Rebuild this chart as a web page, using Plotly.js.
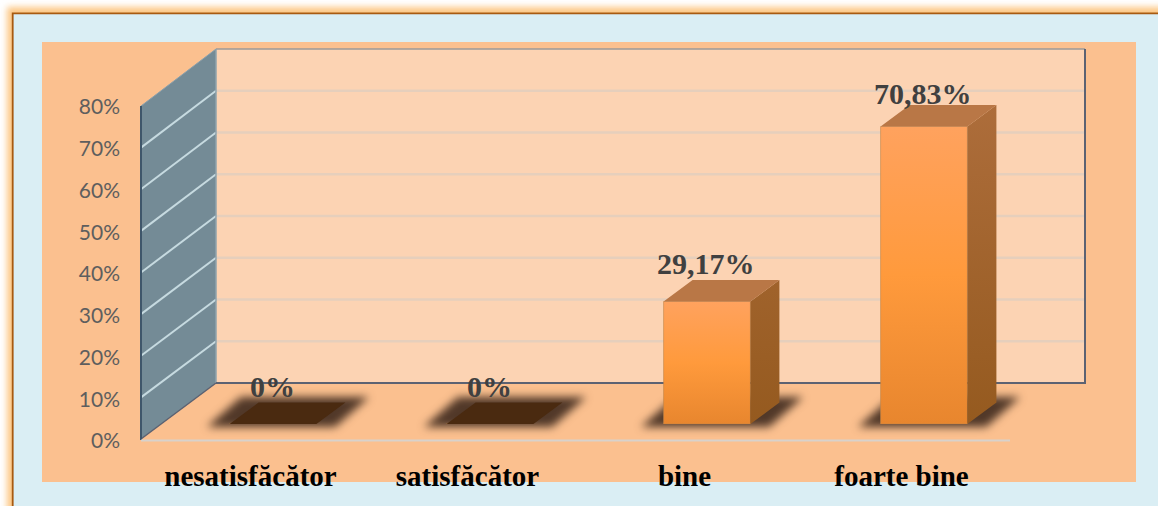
<!DOCTYPE html>
<html><head><meta charset="utf-8">
<script src="https://cdn.plot.ly/plotly-3.0.1.min.js"></script>
<style>html,body{margin:0;padding:0;background:#fff;overflow:hidden}#c{width:1158px;height:506px}</style>
</head><body><div id="c"></div>
<script>
const categories = ['nesatisfăcător', 'satisfăcător', 'bine', 'foarte bine'];
const values = [0, 0, 29.17, 70.83];
const labels = ['0%', '0%', '29,17%', '70,83%'];
const labelLift = [38, 38, 38, 33];
const yTicks = [0, 10, 20, 30, 40, 50, 60, 70, 80];

const W = 1158, H = 506;
const px = x => x / W, py = y => 1 - y / H;
const step = 217, firstBar = 273, firstLabel = 250.5, barW = 0.4;
const left = 141, right = 1085;
const unitY = 4.2;
const depthX = 29 / step, depthY = 21.5 / unitY;
const idx = categories.map((_, i) => i);

const shapes = [];
const blurred = {};
function poly(pts, fill, opts) {
  shapes.push(Object.assign({ type: 'path', xref: 'paper', yref: 'paper', layer: 'below',
    path: 'M' + pts.map(p => px(p[0]) + ',' + py(p[1])).join('L') + 'Z',
    fillcolor: fill, line: { width: 0 } }, opts || {}));
  return shapes.length - 1;
}
function seg(a, b, color, width) {
  shapes.push({ type: 'line', xref: 'paper', yref: 'paper', layer: 'below',
    x0: px(a[0]), y0: py(a[1]), x1: px(b[0]), y1: py(b[1]), line: { color: color, width: width } });
  return shapes.length - 1;
}
// page frame
blurred[poly([[7, 7], [1190, 7], [1190, 530], [7, 530]], 'rgba(252,196,125,0.95)')] = 3;
poly([[11.8, 12.4], [1190, 12.4], [1190, 530], [11.8, 530]], '#A85A10');
poly([[13.6, 14.2], [1190, 14.2], [1190, 530], [13.6, 530]], '#DAEEF4');
poly([[42, 42], [1136, 42], [1136, 482], [42, 482]], '#FBC08F');
// back wall, side wall
poly([[216, 49], [1085, 49], [1085, 383], [216, 383]], '#FCD3B3');
poly([[141, 106], [216, 49], [216, 383], [141, 439]], '#748B96');
yTicks.slice(1, -1).forEach(v => {
  const back = 383 - v * 334 / 80, front = 439 - v * 333 / 80;
  seg([216, back], [1085, back], '#E6CFBC', 2.5);
  seg([141, front], [216, back], '#C6DAE0', 2);
});
seg([216, 49], [1085, 49], '#9C9A98', 1.5);
seg([141, 106], [216, 49], '#8AA0AC', 1);
seg([216, 49], [216, 383], '#8FA3AD', 1.5);
seg([1085, 49], [1085, 384], '#5C6272', 2);
seg([216, 383], [1085, 383], '#5C6272', 2);
seg([141, 439], [216, 383], '#5C6272', 1.5);
seg([141, 106], [141, 440], '#3F566A', 2);
seg([141, 440.5], [1010, 440.5], '#D8D2CC', 2);
// soft floor shadows under the bars
idx.forEach(i => {
  const c = firstBar + step * i;
  blurred[poly([[c - 66, 427], [c + 62, 427], [c + 96, 397], [c - 32, 397]], 'rgba(50,32,22,0.85)')] = 4.5;
});

// polygons for the 3D faces, in data units of the bar axes
const side = { x: [], y: [] }, top3d = { x: [], y: [] }, flat = { x: [], y: [] };
values.forEach((v, i) => {
  const a = i - barW / 2, b = i + barW / 2;
  const tgt = v > 0 ? top3d : flat;
  tgt.x.push(a, b, b + depthX, a + depthX, a, null);
  tgt.y.push(v, v, v + depthY, v + depthY, v, null);
  if (v > 0) {
    side.x.push(b, b + depthX, b + depthX, b, b, null);
    side.y.push(0, depthY, v + depthY, v, 0, null);
  }
});
const faceTrace = (f, color) => ({ type: 'scatter', mode: 'lines', x: f.x, y: f.y, xaxis: 'x', yaxis: 'y2',
  fill: 'toself', fillcolor: color, line: { width: 0, color: color }, hoverinfo: 'skip', showlegend: false, cliponaxis: false });

const traces = [
  { type: 'bar', x: idx, y: values, width: barW, xaxis: 'x', yaxis: 'y2', showlegend: false, cliponaxis: false,
    marker: { color: '#FF9A3E', line: { width: 0.6, color: '#C08448' } }, hoverinfo: 'skip' },
  faceTrace(side, '#A3632C'),
  faceTrace(top3d, '#B97746'),
  faceTrace(flat, '#4A2A10'),
  { type: 'scatter', mode: 'markers', x: idx, y: values.map(() => 0), xaxis: 'x2', yaxis: 'y',
    marker: { opacity: 0 }, hoverinfo: 'skip', showlegend: false }
];

const barRange = [(left - firstBar) / step, (right - firstBar) / step];
const tickRange = [(left - firstLabel) / step, (right - firstLabel) / step];
const layout = {
  width: W, height: H, autosize: false,
  margin: { l: 0, r: 0, t: 0, b: 0, pad: 0 },
  paper_bgcolor: '#ffffff', plot_bgcolor: 'rgba(0,0,0,0)',
  showlegend: false, barmode: 'overlay', shapes: shapes,
  xaxis: { domain: [px(left), px(right)], range: barRange, visible: false, anchor: 'y2', fixedrange: true },
  yaxis2: { domain: [py(424), py(424 - 80 * unitY)], range: [0, 80], visible: false, anchor: 'x', fixedrange: true },
  xaxis2: { domain: [px(left), px(right)], range: tickRange, anchor: 'y', tickmode: 'array', tickvals: idx, ticktext: categories,
    showgrid: false, zeroline: false, showline: false, ticks: '', ticklabelstandoff: 15,
    tickfont: { family: '"Liberation Serif", serif', size: 29, color: '#000000', weight: 700 }, fixedrange: true },
  yaxis: { domain: [py(441), py(107)], range: [0, 80], anchor: 'x2', tickmode: 'array', tickvals: yTicks,
    ticktext: yTicks.map(v => v + '%'), showgrid: false, zeroline: false, showline: false, ticks: '', ticklabelstandoff: 20,
    tickfont: { family: 'Lato, sans-serif', size: 21, color: '#5E5E5E' }, fixedrange: true },
  annotations: values.map((v, i) => ({ xref: 'x', yref: 'y2', x: i, y: v, yshift: labelLift[i], xshift: -1,
    text: '<b>' + labels[i] + '</b>', showarrow: false,
    font: { family: '"Liberation Serif", serif', size: 30, color: '#404040' } }))
};

Plotly.newPlot('c', traces, layout, { displayModeBar: false, staticPlot: true }).then(gd => {
  const svg = gd.querySelector('svg.main-svg');
  const NS = 'http://www.w3.org/2000/svg';
  const defs = svg.querySelector('defs') || svg.appendChild(document.createElementNS(NS, 'defs'));
  const grad = (id, stops) => {
    const g = document.createElementNS(NS, 'linearGradient');
    g.setAttribute('id', id); g.setAttribute('x1', 0); g.setAttribute('y1', 0); g.setAttribute('x2', 0); g.setAttribute('y2', 1);
    stops.forEach(s => { const e = document.createElementNS(NS, 'stop'); e.setAttribute('offset', s[0]); e.setAttribute('stop-color', s[1]); g.appendChild(e); });
    defs.appendChild(g);
  };
  grad('barFront', [[0, '#FFA25E'], [0.5, '#FF9A3C'], [1, '#E8862E']]);
  grad('barSide', [[0, '#AD6D3B'], [1, '#955A1F']]);
  gd.querySelectorAll('.barlayer .point path').forEach(p => { p.style.fill = 'url(#barFront)'; });
  const fills = gd.querySelectorAll('.scatterlayer .trace .js-fill');
  if (fills[0]) fills[0].style.fill = 'url(#barSide)';
  Object.keys(blurred).forEach(k => {
    gd.querySelectorAll('.shapelayer path[data-index="' + k + '"]').forEach(p => { p.style.filter = 'blur(' + blurred[k] + 'px)'; });
  });
});
</script></body></html>
